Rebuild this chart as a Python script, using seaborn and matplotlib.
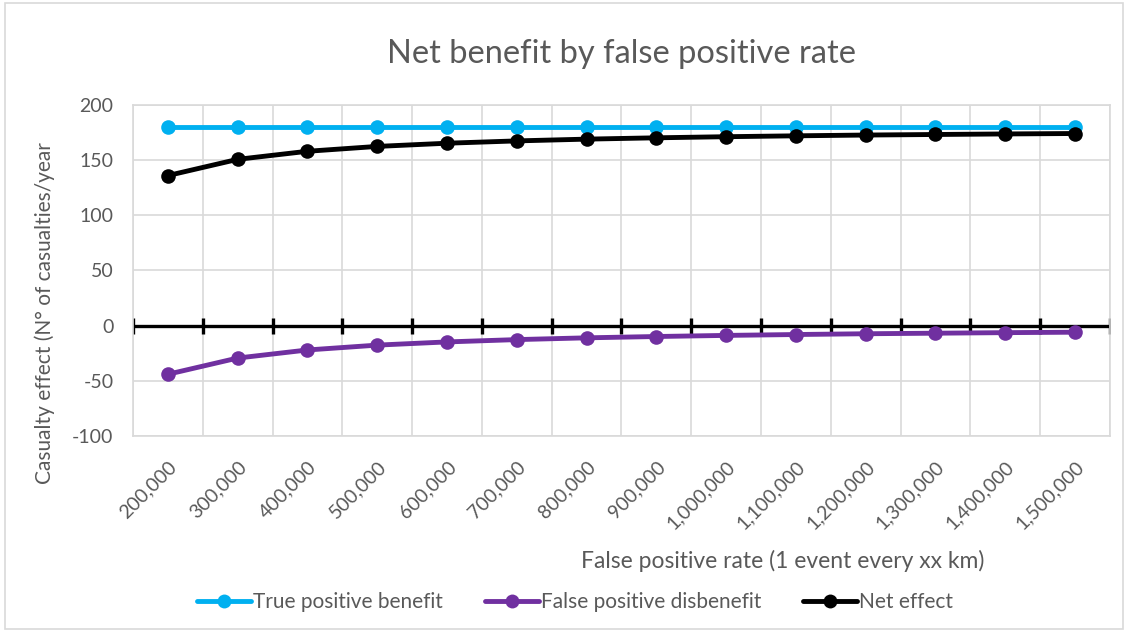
"""Net benefit by false positive rate - line chart recreation."""

import matplotlib

matplotlib.use("Agg")

import matplotlib.pyplot as plt
import numpy as np
import pandas as pd
import seaborn as sns
from matplotlib.patches import Rectangle


rates = [
    "200,000", "300,000", "400,000", "500,000", "600,000", "700,000", "800,000",
    "900,000", "1,000,000", "1,100,000", "1,200,000", "1,300,000", "1,400,000", "1,500,000",
]
true_positive = [180, 180, 180, 180, 180, 180, 180, 180, 180, 180, 180, 180, 180, 180]
false_positive = [-44, -29.3, -22, -17.6, -14.7, -12.6, -11, -9.8, -8.8, -8, -7.3, -6.8, -6.3, -5.9]
net_effect = [136, 150.7, 158, 162.4, 165.3, 167.4, 169, 170.2, 171.2, 172, 172.7, 173.2, 173.7, 174.1]

series_names = ["True positive benefit", "False positive disbenefit", "Net effect"]
palette = {"True positive benefit": "#00B0F0", "False positive disbenefit": "#7030A0", "Net effect": "#000000"}

sns.set_theme(style="white")
plt.rcParams["font.family"] = ["Lato", "DejaVu Sans"]
plt.rcParams["axes.unicode_minus"] = False

frames = []
for name, values in zip(series_names, [true_positive, false_positive, net_effect]):
    frames.append(pd.DataFrame({"rate": rates, "value": values, "series": name}))
data = pd.concat(frames, ignore_index=True)

figure = plt.figure(figsize=(11.32, 6.32), dpi=100)
axis = figure.add_axes([0.1175, 0.310, 0.863, 0.524])

sns.lineplot(
    data=data, x="rate", y="value", hue="series", palette=palette, sort=False,
    marker="o", markersize=10.5, markeredgewidth=0, linewidth=3.5, ax=axis, legend=False,
)

n = len(rates)
boundaries = np.arange(n + 1) - 0.5
axis.set_xlim(-0.5, n - 0.5)
axis.set_ylim(-100, 200)
axis.set_yticks(range(-100, 201, 50))
axis.set_xticks(range(n))
axis.set_xticklabels(rates, rotation=45, ha="right", rotation_mode="anchor")
axis.set_xticks(boundaries, minor=True)
axis.grid(False)
axis.grid(True, which="minor", axis="x", color="#D9D9D9", linewidth=1.2)
axis.grid(True, which="major", axis="y", color="#D9D9D9", linewidth=1.2)
axis.set_axisbelow(True)
axis.tick_params(axis="both", which="both", length=0, colors="#595959", labelsize=14)
axis.tick_params(axis="x", pad=16)
axis.tick_params(axis="y", pad=14)
for spine in axis.spines.values():
    spine.set_color("#D9D9D9")
    spine.set_linewidth(1.2)

# horizontal axis crossing at zero with its tick marks
axis.axhline(0, color="black", linewidth=2.4, zorder=1.5)
axis.plot(boundaries, np.zeros(n + 1), linestyle="none", marker="|", markersize=11,
          markeredgewidth=2.4, color="black", zorder=1.5)

axis.set_title("Net benefit by false positive rate", fontsize=23.5, color="#595959", pad=30)
axis.set_xlabel("False positive rate (1 event every xx km)", fontsize=16.5, color="#595959")
axis.xaxis.set_label_coords(0.665, -0.345)
axis.set_ylabel("Casualty effect (N° of casualties/year", fontsize=15, color="#595959")
axis.yaxis.set_label_coords(-0.08, 0.37)

handles = [
    plt.Line2D([], [], color=palette[name], linewidth=3.5, marker="o", markersize=10, markeredgewidth=0)
    for name in series_names
]
figure.legend(
    handles, series_names, loc="center", bbox_to_anchor=(0.508, 0.047), ncol=3, frameon=False,
    fontsize=15, labelcolor="#595959", handlelength=2.6, handletextpad=0.1, columnspacing=2.0,
)

figure.patches.append(Rectangle((0.004, 0.004), 0.988, 0.992, transform=figure.transFigure,
                                fill=False, edgecolor="#D9D9D9", linewidth=1.2))

figure.savefig("out.png", dpi=100)
plt.close(figure)
